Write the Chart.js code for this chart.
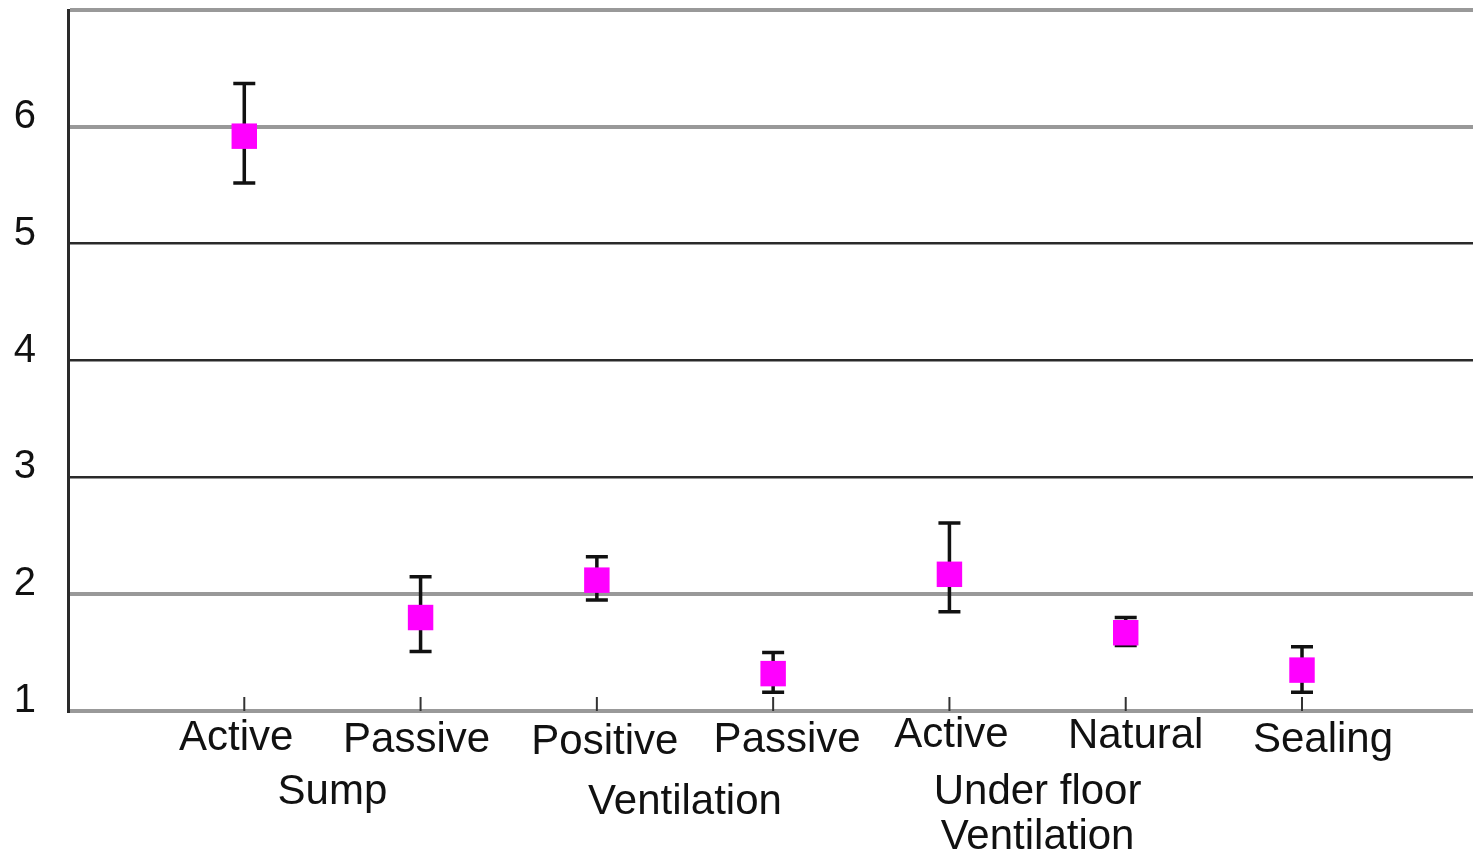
<!DOCTYPE html>
<html>
<head>
<meta charset="utf-8">
<script src="https://cdn.jsdelivr.net/npm/chart.js@4/dist/chart.umd.min.js"></script>
<style>
  html, body { margin: 0; padding: 0; background: #fff; }
  #wrap { width: 1473px; height: 856px; }
</style>
</head>
<body>
<div id="wrap"><canvas id="mitigationChart"></canvas></div>
<script>
const methods = ['Active', 'Passive', 'Positive', 'Passive', 'Active', 'Natural', 'Sealing'];
const groups = [
  { name: ['Sump'], from: 1, to: 2 },
  { name: ['Ventilation'], from: 3, to: 4 },
  { name: ['Under floor', 'Ventilation'], from: 5, to: 6 }
];
const means = [5.92, 1.80, 2.12, 1.32, 2.17, 1.67, 1.35];
const upper = [6.37, 2.15, 2.32, 1.50, 2.61, 1.80, 1.55];
const lower = [5.52, 1.51, 1.95, 1.16, 1.85, 1.56, 1.16];
const yTicks = [1, 2, 3, 4, 5, 6, 7];

const FONT = '"Liberation Sans", Arial, sans-serif';

// error bars under the squares
const errorBars = {
  id: 'errorBars',
  beforeDatasetsDraw(chart) {
    const { ctx, scales: { x, y } } = chart;
    ctx.save();
    ctx.strokeStyle = '#111';
    ctx.lineWidth = 3.5;
    means.forEach((m, i) => {
      const px = x.getPixelForValue(i + 1);
      const top = y.getPixelForValue(upper[i]);
      const bot = y.getPixelForValue(lower[i]);
      ctx.beginPath();
      ctx.moveTo(px, top); ctx.lineTo(px, bot);
      ctx.moveTo(px - 11, top); ctx.lineTo(px + 11, top);
      ctx.moveTo(px - 11, bot); ctx.lineTo(px + 11, bot);
      ctx.stroke();
    });
    ctx.restore();
  }
};

// category labels, group labels and inner tick marks
const categoryLabels = {
  id: 'categoryLabels',
  afterDraw(chart) {
    const { ctx, scales: { x, y } } = chart;
    const base = y.getPixelForValue(1);
    ctx.save();
    ctx.strokeStyle = '#333';
    ctx.lineWidth = 2;
    methods.forEach((m, i) => {
      const px = x.getPixelForValue(i + 1);
      ctx.beginPath();
      ctx.moveTo(px, base); ctx.lineTo(px, base - 14);
      ctx.stroke();
    });
    const nudgeX = [-8, -4, 8, 14, 2, 10, 21];
    const nudgeY = [0, 2, 4, 2, -3, -2, 2];
    ctx.fillStyle = '#111';
    ctx.font = '42px ' + FONT;
    ctx.textAlign = 'center';
    ctx.textBaseline = 'middle';
    methods.forEach((m, i) => {
      const px = x.getPixelForValue(i + 1);
      ctx.fillText(m, px + nudgeX[i], base + 27 + nudgeY[i]);
    });
    groups.forEach((g, gi) => {
      const px = x.getPixelForValue((g.from + g.to) / 2);
      const startY = gi === 1 ? base + 91 : base + 81;
      g.name.forEach((line, li) => {
        ctx.fillText(line, px, startY + li * 45);
      });
    });
    ctx.restore();
  }
};

new Chart(document.getElementById('mitigationChart'), {
  type: 'scatter',
  data: {
    datasets: [{
      data: means.map((v, i) => ({ x: i + 1, y: v })),
      pointStyle: 'rect',
      pointRadius: 18,
      pointHoverRadius: 18,
      backgroundColor: '#ff00ff',
      borderColor: '#ff00ff',
      borderWidth: 0
    }]
  },
  options: {
    responsive: true,
    maintainAspectRatio: false,
    animation: false,
    layout: { autoPadding: false, padding: { top: 10, right: 0, bottom: 0, left: 0 } },
    plugins: {
      legend: { display: false },
      tooltip: { enabled: false }
    },
    scales: {
      x: {
        type: 'linear',
        min: 0,
        max: 7.97,
        afterBuildTicks: (axis) => { axis.ticks = methods.map((m, i) => ({ value: i + 1 })); },
        afterFit: (axis) => { axis.height = 145; axis.paddingLeft = 0; axis.paddingRight = 0; },
        ticks: { display: false },
        grid: { display: false },
        border: { display: false }
      },
      y: {
        min: 1,
        max: 7,
        afterBuildTicks: (axis) => { axis.ticks = yTicks.map(v => ({ value: v })); },
        afterFit: (axis) => { axis.width = 68; axis.paddingTop = 0; axis.paddingBottom = 0; },
        ticks: {
          color: '#111',
          font: { family: FONT, size: 40 },
          padding: 32,
          labelOffset: -10,
          callback: (v) => (v === 7 ? '' : v)
        },
        grid: {
          drawTicks: false,
          color: (c) => ([3, 4, 5].includes(c.tick.value) ? '#2a2a2a' : '#999'),
          lineWidth: (c) => ([3, 4, 5].includes(c.tick.value) ? 2.5 : 4)
        },
        border: { display: true, color: '#2a2a2a', width: 3 }
      }
    }
  },
  plugins: [errorBars, categoryLabels]
});
</script>
</body>
</html>
